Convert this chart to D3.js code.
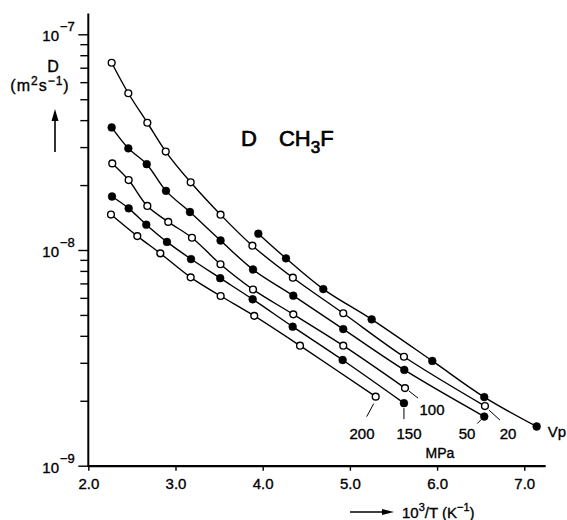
<!DOCTYPE html>
<html><head><meta charset="utf-8">
<script src="https://cdn.jsdelivr.net/npm/d3@7"></script>
<style>body{margin:0;background:#fff}svg{display:block}text{font-family:"Liberation Sans",Arial,sans-serif;fill:#000;stroke:#000;stroke-width:0.35px}</style>
</head><body><svg id="c" width="567" height="520"></svg>
<script>
// Pressure series labels
const seriesNames = ["20", "50", "100", "150", "200", "Vp"];
const seriesFilled = [false, true, false, true, false, true];
// x values: 10^3/T (K^-1)
const xA = [2.268, 2.459, 2.677, 2.888, 3.174, 3.517, 3.882, 4.346, 4.924, 5.620, 6.549];
const xB = [2.268, 2.459, 2.670, 2.891, 3.166, 3.517, 3.889, 4.351, 4.924, 5.624, 6.541];
const xC = [2.275, 2.463, 2.677, 2.917, 3.189, 3.516, 3.889, 4.351, 4.924, 5.632];
const xD = [2.272, 2.463, 2.665, 2.902, 3.178, 3.513, 3.885, 4.344, 4.917, 5.620];
const xE = [2.260, 2.562, 2.826, 3.174, 3.518, 3.903, 4.428, 5.296];
const xVp = [3.950, 4.267, 4.695, 5.250, 5.945, 6.541, 7.142];
// D values (m^2 s^-1)
const dA = [7.38e-8, 5.33e-8, 3.89e-8, 2.86e-8, 2.06e-8, 1.458e-8, 1.047e-8, 7.44e-9, 5.09e-9, 3.20e-9, 1.89e-9];
const dB = [3.70e-8, 2.96e-8, 2.50e-8, 1.88e-8, 1.50e-8, 1.107e-8, 8.12e-9, 6.14e-9, 4.30e-9, 2.78e-9, 1.69e-9];
const dC = [2.52e-8, 2.11e-8, 1.60e-8, 1.35e-8, 1.14e-8, 8.59e-9, 6.56e-9, 5.03e-9, 3.60e-9, 2.29e-9];
const dD = [1.77e-8, 1.56e-8, 1.31e-8, 1.09e-8, 9.08e-9, 7.40e-9, 5.91e-9, 4.41e-9, 3.09e-9, 1.95e-9];
const dE = [1.46e-8, 1.16e-8, 9.65e-9, 7.47e-9, 6.12e-9, 4.95e-9, 3.60e-9, 2.09e-9];
const dVp = [1.19e-8, 9.15e-9, 6.59e-9, 4.77e-9, 3.06e-9, 2.08e-9, 1.52e-9];
// tick labels
const xTicks = [2, 3, 4, 5, 6, 7];
const xTickLabels = ["2.0", "3.0", "4.0", "5.0", "6.0", "7.0"];
const yMajor = [1e-9, 1e-8, 1e-7];
const yMajorExp = ["-9", "-8", "-7"];

const allX = [xA, xB, xC, xD, xE, xVp];
const allD = [dA, dB, dC, dD, dE, dVp];

const svg = d3.select("#c");
const x = d3.scaleLinear().domain([2, 7.24]).range([88.3, 545.2]);
const y = d3.scaleLog().domain([1e-9, 1.25e-7]).range([465.7, 13.4]);

// y minor + major ticks
const yTickVals = [];
[1e-9, 1e-8].forEach(b => { for (let k = 1; k <= 9; k++) yTickVals.push(b * k); });
yTickVals.push(1e-7);
const gy = svg.append("g").attr("transform", "translate(88.3,0)")
  .call(d3.axisLeft(y).tickValues(yTickVals).tickSize(8).tickSizeOuter(0).tickFormat(""));
gy.select(".domain").attr("stroke-width", 2).attr("d", `M0,${y.range()[0] + 1}V${y.range()[1]}`);
gy.selectAll(".tick line").attr("stroke-width", 1.4)
  .attr("x2", d => yMajor.includes(d) ? -10 : -8);

// x axis
const gx = svg.append("g").attr("transform", "translate(0,465.7)")
  .call(d3.axisBottom(x).tickValues(xTicks).tickSize(5).tickSizeOuter(0)
    .tickFormat((d, i) => xTickLabels[i]));
gx.select(".domain").attr("stroke-width", 2.2);
gx.selectAll(".tick line").attr("stroke-width", 1.4);
gx.selectAll(".tick text").attr("font-size", 15).attr("dy", "1.0em")
  .style("font-family", "Liberation Sans, Arial, sans-serif");

// y major labels with superscripts
yMajor.forEach((v, i) => {
  svg.append("text").attr("x", 59).attr("y", y(v) + 7).attr("text-anchor", "end")
    .attr("font-size", 15).text("10");
  svg.append("text").attr("x", 60).attr("y", y(v) - 3).attr("font-size", 13).text(yMajorExp[i].replace("-", "\u2212"));
});

// y axis title
svg.append("text").attr("x", 53).attr("y", 72).attr("text-anchor", "middle").attr("font-size", 16).text("D");
const yl = svg.append("text").attr("x", 40).attr("y", 91).attr("text-anchor", "middle").attr("font-size", 16)
  .attr("letter-spacing", 1);
yl.append("tspan").text("(m");
yl.append("tspan").attr("font-size", 12).attr("dy", -6).text("2");
yl.append("tspan").attr("dy", 6).text("s");
yl.append("tspan").attr("font-size", 12).attr("dy", -6).text("\u22121");
yl.append("tspan").attr("dy", 6).text(")");
svg.append("line").attr("x1", 55).attr("x2", 55).attr("y1", 152).attr("y2", 118)
  .attr("stroke", "#000").attr("stroke-width", 1.6);
svg.append("path").attr("d", "M51.5,121 L55,109 L58.5,121 Z").attr("fill", "#000");

// x axis title
svg.append("line").attr("x1", 350).attr("x2", 385).attr("y1", 512).attr("y2", 512)
  .attr("stroke", "#000").attr("stroke-width", 1.5);
svg.append("path").attr("d", "M382,509 L394,512 L382,515 Z").attr("fill", "#000");
const xl = svg.append("text").attr("x", 402).attr("y", 518).attr("font-size", 15);
xl.append("tspan").text("10");
xl.append("tspan").attr("font-size", 11).attr("dy", -7).text("3");
xl.append("tspan").attr("dy", 7).text("/T  (K");
xl.append("tspan").attr("font-size", 11).attr("dy", -7).text("\u22121");
xl.append("tspan").attr("dy", 7).text(")");

// title
const tt = svg.append("text").attr("x", 241).attr("y", 146).attr("font-size", 22).style("stroke-width", "0.7px");
tt.append("tspan").text("D");
tt.append("tspan").attr("dx", 22).text("CH");
tt.append("tspan").attr("font-size", 17).attr("dy", 7).text("3");
tt.append("tspan").attr("dy", -7).text("F");

// curves
const line = d3.line().x(d => x(d[0])).y(d => y(d[1])).curve(d3.curveCatmullRom.alpha(0.5));
allX.forEach((xs, i) => {
  const pts = xs.map((v, j) => [v, allD[i][j]]);
  svg.append("path").attr("d", line(pts)).attr("fill", "none").attr("stroke", "#000").attr("stroke-width", 1.4);
});
allX.forEach((xs, i) => {
  const pts = xs.map((v, j) => [v, allD[i][j]]);
  svg.selectAll(null).data(pts).enter().append("circle")
    .attr("cx", d => x(d[0])).attr("cy", d => y(d[1]))
    .attr("r", seriesFilled[i] ? 3.9 : 3.4)
    .attr("fill", seriesFilled[i] ? "#000" : "#fff")
    .attr("stroke", "#000").attr("stroke-width", seriesFilled[i] ? 0.5 : 1.4);
});

// series end labels with leaders
function endPt(i) { const xs = allX[i], ds = allD[i]; return [x(xs[xs.length - 1]), y(ds[ds.length - 1])]; }
const lblCfg = [
  {i: 0, tx: 508, ty: 439, lx1: 4, ly1: 4, lx2: 15, ly2: 14},
  {i: 1, tx: 467, ty: 439, lx1: -3, ly1: 3, lx2: -7, ly2: 7},
  {i: 2, tx: 432, ty: 415, lx1: 4, ly1: 3, lx2: 13, ly2: 10},
  {i: 3, tx: 409, ty: 439, lx1: 0, ly1: 5, lx2: 0, ly2: 16},
  {i: 4, tx: 362, ty: 439, lx1: -2, ly1: 7, lx2: -9, ly2: 20},
  {i: 5, tx: 557, ty: 437, lx1: 0, ly1: 0, lx2: 0, ly2: 0}
];
lblCfg.forEach(c => {
  const [px, py] = endPt(c.i);
  if (c.lx2 || c.ly2) svg.append("line").attr("x1", px + c.lx1).attr("y1", py + c.ly1)
    .attr("x2", px + c.lx2).attr("y2", py + c.ly2).attr("stroke", "#000").attr("stroke-width", 1);
  svg.append("text").attr("x", c.tx).attr("y", c.ty).attr("text-anchor", "middle")
    .attr("font-size", 15).text(seriesNames[c.i]);
});
svg.append("text").attr("x", 440).attr("y", 458).attr("text-anchor", "middle").attr("font-size", 14).text("MPa");
</script></body></html>
